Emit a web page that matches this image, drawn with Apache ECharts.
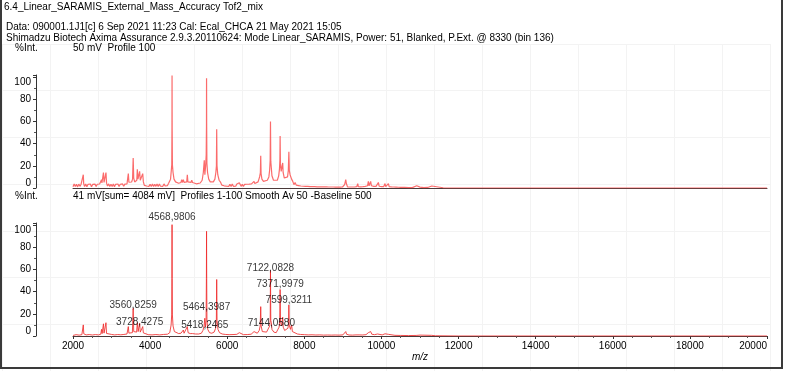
<!DOCTYPE html>
<html><head><meta charset="utf-8">
<script src="https://cdn.jsdelivr.net/npm/echarts@6/dist/echarts.min.js"></script>
<style>html,body{margin:0;padding:0;background:#fff}#c{width:785px;height:371px}</style>
</head><body><div id="c"></div>
<script>
// ---------- DATA ----------
const headerTitle = '6.4_Linear_SARAMIS_External_Mass_Accuracy Tof2_mix';
const headerData = 'Data: 090001.1J1[c] 6 Sep 2021 11:23 Cal: Ecal_CHCA 21 May 2021 15:05';
const headerInstr = 'Shimadzu Biotech Axima Assurance 2.9.3.20110624: Mode Linear_SARAMIS, Power: 51, Blanked, P.Ext. @ 8330 (bin 136)';
const topYLabel = '%Int.';
const topInfo = '50 mV  Profile 100';
const bottomYLabel = '%Int.';
const bottomInfo = '41 mV[sum= 4084 mV]  Profiles 1-100 Smooth Av 50 -Baseline 500';
const xName = 'm/z';
const xMin = 2000, xMax = 20000, xStep = 2000;
const yMin = 0, yMax = 102, yStep = 20;

// top panel: raw profile (m/z, %Int)
const topSpectrum = [
[2000,1.2],[2030,3.6],[2060,1.4],[2090,3.3],[2120,1.0],[2150,3.5],[2180,1.5],[2210,3.4],[2240,1.6],[2255,4],[2267,12],[2277,4],
[2300,1.3],[2330,3.5],[2360,1.2],[2390,3.3],[2420,1.5],[2450,3.6],[2480,1.1],[2510,3.2],[2540,1.4],[2570,3.5],[2600,1.3],[2630,3.4],[2660,1.6],[2690,3.6],[2715,2.0],[2730,4.2],[2740,7.5],[2750,4.5],[2775,4.8],[2790,14],[2805,5],[2840,4.6],[2855,14],[2870,4.4],
[2895,1.8],[2925,3.7],[2955,1.4],[2985,3.4],[3015,1.3],[3045,3.6],[3075,1.2],[3105,3.3],[3135,1.5],[3165,3.6],[3195,1.3],[3225,3.4],[3255,1.6],[3285,3.7],[3315,1.5],[3345,3.5],[3375,1.9],[3400,3.6],[3415,4.5],
[3435,13],[3450,5.2],[3480,4.2],[3520,5.4],[3545,8],[3561,27],[3575,9],[3600,5.5],[3630,6],[3655,7],[3668,17],[3685,8],[3705,7],[3728,15],[3745,7],[3775,5.5],[3795,6],[3808,13],[3825,5.5],
[3850,2.4],[3880,4.0],[3910,1.8],[3940,3.6],[3970,1.5],[4000,3.4],[4030,1.4],[4060,3.6],[4090,1.3],[4120,3.4],[4150,1.5],[4180,3.5],[4210,1.4],[4240,3.6],[4270,1.6],[4300,3.4],[4330,1.5],[4360,3.7],[4390,1.8],[4420,3.6],[4450,2.2],[4480,4.2],[4500,3.5],
[4530,8],[4550,16],[4562,21],[4567,54],[4569,101.5],[4572,54],[4578,21],[4595,14],[4620,8],[4660,5.5],[4700,5],[4740,4.3],[4780,4.8],[4800,5],[4820,7.6],[4835,5],[4862,7.5],[4880,5],[4920,4.5],[4950,5.5],[4965,12],[4980,5.5],[5020,4.5],[5060,5],[5080,7],[5100,5],[5150,4.2],[5200,3.8],[5250,4],[5300,4.5],[5350,7],[5380,14],[5405,25],[5420,12],[5440,20],[5455,30],[5462,56],[5464,99],[5467,56],[5473,22],[5490,14],[5520,8],[5560,5.5],[5600,5],[5640,5.5],[5680,8],[5705,14],[5720,20],[5727,53],[5735,20],[5755,12],[5790,7],[5830,5],
[5860,2.6],[5890,4.4],[5920,2.0],[5950,3.8],[5980,1.7],[6010,3.5],[6040,1.5],[6070,3.4],[6100,1.4],[6130,3.5],[6160,1.5],[6190,3.3],[6220,1.6],[6250,3.6],[6280,2.0],[6300,3.6],[6314,4.7],[6330,3.2],[6360,1.5],[6390,3.4],[6420,1.4],[6450,3.3],[6480,1.5],[6510,3.4],[6540,1.6],[6570,3.5],[6600,1.8],[6630,3.7],[6660,2.2],[6680,4.2],
[6696,6],[6715,4],[6760,4.5],[6800,5.5],[6840,10],[6860,14],[6869,29],[6878,13],[6900,8],[6940,6],[6990,5.5],[7040,7],[7080,10],[7100,16],[7114,25],[7122,60],[7130,24],[7144,18],[7160,11],[7200,7],[7250,6],[7300,7],[7335,11],[7355,17],[7366,25],[7372,47],[7380,22],[7400,15],[7430,16],[7439,22.6],[7450,14],[7480,9],[7530,7.5],[7565,10],[7585,16],[7599,32.7],[7610,16],[7630,12],[7647,12],[7670,8],[7700,6],
[7730,3.0],[7760,5.0],[7790,2.6],[7820,4.4],[7850,2.2],[7880,3.8],[7910,1.8],[7940,3.5],[7970,1.6],[8000,3.3],[8030,1.5],[8060,3.1],[8090,1.4],[8120,3.0],[8150,1.3],[8180,3.0],[8210,1.2],[8240,2.9],[8270,1.2],[8300,2.8],[8330,1.1],[8360,2.8],[8390,1.1],[8420,2.7],[8450,1.0],[8480,2.7],[8510,1.0],[8540,2.6],[8570,1.0],[8600,2.6],[8630,0.9],[8660,2.5],[8690,0.9],[8720,2.5],[8750,0.9],[8780,2.4],[8810,0.8],[8840,2.4],[8870,0.8],[8900,2.3],[8930,0.8],[8960,2.3],[8990,0.9],[9020,2.5],[9045,3],[9060,4.5],[9074,7.6],[9090,4],
[9120,1.0],[9150,2.4],[9180,0.9],[9210,2.3],[9240,0.9],[9270,2.3],[9300,0.9],[9330,2.4],[9360,1.2],[9385,4],[9400,1.2],[9430,2.4],[9460,1.0],[9490,2.5],[9520,1.2],[9550,2.6],[9580,1.5],[9610,3.0],[9640,2.0],[9660,6],[9680,2.0],[9700,3.2],[9720,6],[9740,2.0],[9770,3.0],[9800,1.5],[9830,3.0],[9860,1.5],[9890,3.2],[9920,5],[9940,1.6],[9970,2.8],[10000,1.3],[10030,2.6],[10060,1.3],[10093,4],[10110,1.3],[10140,2.6],[10160,1.4],[10180,4],[10200,1.2],[10230,2.4],[10260,1.0],[10290,2.2],[10320,0.9],[10350,2.0],[10380,0.8],[10410,1.8],[10440,0.7],[10470,1.6],[10500,0.6],[10550,1.4],[10600,0.5],[10650,1.2],[10700,0.4],[10750,1.0],[10800,0.3],[10850,0.9],[10915,2],[10950,0.5],[11000,0.8],[11100,0.3],[11200,0.5],[11305,1.8],[11350,0.3],[11600,0.2],[12000,0],[20000,0]
];

// bottom panel: smoothed, baseline-corrected (m/z, %Int)
const bottomSpectrum = [
[2000,0.5],[2080,1.2],[2160,0.8],[2230,1.2],[2255,2],[2267,10],[2280,2],[2340,1],[2420,1.3],[2500,0.9],[2580,1.3],[2660,1],[2720,1.6],[2740,6],[2755,2.2],[2775,2.5],[2790,11],[2805,2.6],[2840,2.5],[2855,12],[2870,2.3],[2920,1.2],[3000,1.4],[3080,1],[3160,1.3],[3240,1.1],[3320,1.4],[3400,1.8],[3420,2.2],[3435,8.5],[3450,2.6],[3500,2.2],[3540,3],[3561,25],[3575,4],[3620,3],[3650,3.5],[3668,12],[3690,4],[3710,3.5],[3728,11.5],[3745,3.5],[3790,3],[3808,8.5],[3825,2.8],[3870,1.5],[3950,1.2],[4050,1.0],[4150,1.3],[4250,1.0],[4350,1.4],[4450,1.6],[4510,3],[4545,10],[4560,19],[4566,52],[4569,100.5],[4572,52],[4578,19],[4595,9],[4630,4],[4680,2.5],[4740,2.2],[4800,2.5],[4820,4],[4840,2.5],[4862,5.4],[4880,2.5],[4930,2.5],[4965,8.5],[4985,3],[5040,2.2],[5080,4],[5100,2.2],[5180,1.8],[5260,1.8],[5330,2.5],[5370,5],[5400,9],[5418,16],[5435,8],[5452,14],[5460,52],[5464,94.5],[5468,52],[5474,15],[5495,6],[5540,3],[5600,2.5],[5660,3.5],[5700,7],[5718,14],[5727,51],[5736,14],[5760,6],[5800,3],[5870,1.8],[5950,1.4],[6050,1.2],[6150,1.3],[6250,1.5],[6290,2],[6314,3],[6340,1.6],[6420,1.2],[6520,1.3],[6620,1.6],[6670,2.2],[6696,4],[6720,2.2],[6780,2.5],[6830,5],[6855,9],[6869,26.5],[6880,9],[6910,4],[6960,3],[7020,3.5],[7070,5],[7100,9],[7115,14],[7122,59],[7130,14],[7144,12],[7160,6],[7210,3.5],[7270,3],[7320,4],[7345,8],[7362,14],[7372,42],[7382,13],[7410,9],[7439,17],[7452,8],[7490,5],[7540,4],[7575,7],[7590,11],[7599,28],[7608,10],[7640,6],[7670,10],[7690,4],[7740,2.5],[7820,1.8],[7900,1.4],[8000,1.2],[8100,1.0],[8200,1.1],[8300,0.9],[8400,1.0],[8500,0.8],[8600,0.9],[8700,0.8],[8800,0.9],[8900,0.8],[9000,1.0],[9050,1.8],[9074,4],[9095,1.6],[9160,0.9],[9250,0.8],[9340,1],[9385,2.5],[9420,1],[9500,0.9],[9600,1.2],[9640,1.8],[9660,3],[9690,1.6],[9720,4],[9750,1.6],[9820,1.2],[9900,1.8],[9920,3.5],[9950,1.5],[10020,1.0],[10093,2],[10130,1.0],[10180,1.5],[10230,0.8],[10350,0.6],[10500,0.5],[10700,0.4],[10900,0.5],[11000,0.8],[11050,0.3],[11300,0.6],[11400,0.2],[11700,0.1],[12000,0],[20000,0]
];

// annotated peaks (bottom panel): m/z, label text, intensity level where label sits
const peakMz = [4568.9806, 3560.8259, 3728.4275, 5464.3987, 5418.2465, 7122.0828, 7371.9979, 7599.3211, 7144.0580];
const peakText = ['4568,9806','3560,8259','3728,4275','5464,3987','5418,2465','7122,0828','7371,9979','7599,3211','7144,0580'];
const peakLabelLevel = [107.4, 28, 12.6, 25.7, 9.9, 60.9, 46.5, 32.5, 11.7];

// ---------- CHART ----------
const FONT = '"Liberation Sans", Arial, sans-serif';
const chart = echarts.init(document.getElementById('c'), null, {renderer: 'canvas'});

function yFmt(v) {
  if (v === 100) return '{d|100}';
  if (v === 0) return '{u|0}';
  return '{n|' + v + '}';
}
const yRich = {
  d: {fontSize: 10, fontFamily: FONT, color: '#000', padding: [10, 0, 0, 0]},
  u: {fontSize: 10, fontFamily: FONT, color: '#000', padding: [0, 0, 10, 0]},
  n: {fontSize: 10, fontFamily: FONT, color: '#000'}
};
function yAxisFor(gi) {
  return {
    gridIndex: gi, type: 'value', min: yMin, max: yMax, interval: yStep, offset: 37,
    axisLine: {show: true, lineStyle: {color: '#333', width: 1}},
    axisTick: {show: true, length: 3, lineStyle: {color: '#333'}},
    minorTick: {show: true, splitNumber: 2, length: 2, lineStyle: {color: '#555'}},
    axisLabel: {show: true, margin: 5, showMaxLabel: false, formatter: yFmt, rich: yRich, fontSize: 10, fontFamily: FONT, color: '#000'},
    splitLine: {show: false}
  };
}

const txt = (x, y, text, extra) => ({
  type: 'text', silent: true, z: 100,
  style: Object.assign({x: x, y: y, text: text, font: '10px ' + FONT, fill: '#000', verticalAlign: 'middle', align: 'left'}, extra || {})
});

chart.setOption({
  animation: false,
  backgroundColor: '#fff',
  grid: [
    {left: 2, top: 44, width: 768, height: 336, show: false},
    {left: 73, top: 75, width: 694, height: 113, show: false},
    {left: 73, top: 223, width: 694, height: 113, show: false}
  ],
  xAxis: [
    {gridIndex: 0, type: 'value', min: 0, max: 16, interval: 1, axisLine: {show: false}, axisTick: {show: false}, axisLabel: {show: false},
     splitLine: {show: true, lineStyle: {color: '#f3f3f3', width: 1}}, z: 0},
    {gridIndex: 1, type: 'value', min: xMin, max: xMax, interval: xStep,
     axisLine: {show: true, onZero: false, lineStyle: {color: '#4a3a3a', width: 1}}, axisTick: {show: false}, axisLabel: {show: false}, splitLine: {show: false}},
    {gridIndex: 2, type: 'value', min: xMin, max: xMax, interval: xStep,
     name: xName, nameLocation: 'middle', nameGap: 16,
     nameTextStyle: {fontStyle: 'italic', fontSize: 10, fontFamily: FONT, color: '#000'},
     axisLine: {show: true, onZero: false, lineStyle: {color: '#4a3a3a', width: 1}},
     axisTick: {show: true, length: 3, lineStyle: {color: '#333'}},
     minorTick: {show: true, splitNumber: 4, length: 2, lineStyle: {color: '#555'}},
     axisLabel: {show: true, margin: 5, fontSize: 10, fontFamily: FONT, color: '#000', alignMaxLabel: 'right', formatter: v => String(v)},
     splitLine: {show: false}}
  ],
  yAxis: [
    {gridIndex: 0, type: 'value', min: 0, max: 7, interval: 1, axisLine: {show: false}, axisTick: {show: false}, axisLabel: {show: false},
     splitLine: {show: true, lineStyle: {color: '#f3f3f3', width: 1}}, z: 0},
    yAxisFor(1),
    yAxisFor(2)
  ],
  series: [
    {type: 'line', xAxisIndex: 1, yAxisIndex: 1, data: topSpectrum, symbol: 'none', silent: true,
     lineStyle: {color: 'rgba(250,70,70,0.8)', width: 1.2}, z: 3},
    {type: 'line', xAxisIndex: 2, yAxisIndex: 2, data: bottomSpectrum, symbol: 'none', silent: true,
     lineStyle: {color: 'rgba(240,45,45,0.85)', width: 1}, z: 3},
    {type: 'scatter', xAxisIndex: 2, yAxisIndex: 2, clip: false, symbolSize: 1, silent: true,
     itemStyle: {color: 'rgba(0,0,0,0)'},
     data: peakMz.map((m, i) => ({value: [m, peakLabelLevel[i]], name: peakText[i]})),
     label: {show: true, position: 'inside', formatter: p => p.name, fontSize: 10, fontFamily: FONT, color: '#000'}, z: 5}
  ],
  graphic: [
    {type: 'rect', silent: true, z: 100, shape: {x: 1, y: -5, width: 781, height: 373}, style: {fill: 'none', stroke: '#3a3a3a', lineWidth: 2}},
    txt(4, 7, headerTitle),
    txt(6, 27, headerData),
    txt(6, 38, headerInstr),
    txt(15, 48, topYLabel),
    txt(73, 48, topInfo),
    txt(15, 196, bottomYLabel),
    txt(73, 196, bottomInfo)
  ]
});
</script></body></html>
